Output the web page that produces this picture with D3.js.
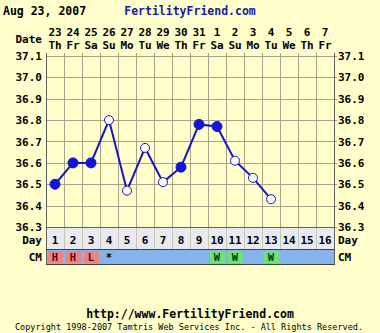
<!DOCTYPE html>
<html><head><meta charset="utf-8">
<script src="https://cdn.jsdelivr.net/npm/d3@7"></script>
<style>body{margin:0;background:#ffffcc;}svg{display:block;}</style>
</head><body>
<script>
const dates = ["23","24","25","26","27","28","29","30","31","1","2","3","4","5","6","7"];
const weekdays = ["Th","Fr","Sa","Su","Mo","Tu","We","Th","Fr","Sa","Su","Mo","Tu","We","Th","Fr"];
const days = [1,2,3,4,5,6,7,8,9,10,11,12,13,14,15,16];
const temps = [36.50,36.60,36.60,36.80,36.47,36.67,36.51,36.58,36.78,36.77,36.61,36.53,36.43];
const openPts = [false,false,false,true,true,true,true,false,false,false,true,true,true];
const cm = ["H","H","L","*","","","","","","W","W","","W","","",""];
const yTicks = [36.3,36.4,36.5,36.6,36.7,36.8,36.9,37.0,37.1];

(function(){
const W=380,H=333;
const svg=d3.select("body").append("svg").attr("width",W).attr("height",H);
svg.append("rect").attr("width",W).attr("height",H).attr("fill","#ffffcc");
const font="'DejaVu Sans Mono', monospace";
const fs=11;
const pl=46,pr=334,pt=56,pb=227;
const x=d3.scaleBand().domain(days).range([pl,pr]);
const y=d3.scaleLinear().domain([36.3,37.1]).range([pb,pt]);
const gridC="#a8a288";

// title
svg.append("text").attr("x",3).attr("y",15).attr("font-family",font).attr("font-weight","bold").attr("font-size",11.5).attr("fill","#000").text("Aug 23, 2007");
svg.append("text").attr("x",190).attr("y",15).attr("text-anchor","middle").attr("font-family",font).attr("font-weight","bold").attr("font-size",11.5).attr("fill","#1a1aa0").text("FertilityFriend.com");

// date header
svg.append("text").attr("x",42).attr("y",43).attr("text-anchor","end").attr("font-family",font).attr("font-weight","bold").attr("font-size",fs).text("Date");
svg.selectAll("text.dn").data(days).enter().append("text").attr("class","dn")
  .attr("x",d=>x(d)+x.bandwidth()/2).attr("y",36).attr("text-anchor","middle")
  .attr("font-family",font).attr("font-weight","bold").attr("font-size",fs).text((d,i)=>dates[i]);
svg.selectAll("text.wd").data(days).enter().append("text").attr("class","wd")
  .attr("x",d=>x(d)+x.bandwidth()/2).attr("y",49).attr("text-anchor","middle")
  .attr("font-family",font).attr("font-weight","bold").attr("font-size",fs).text((d,i)=>weekdays[i]);

// grid
const g=svg.append("g");
yTicks.forEach(t=>{
  g.append("line").attr("x1",pl).attr("x2",pr+3).attr("y1",Math.round(y(t))+0.5).attr("y2",Math.round(y(t))+0.5).attr("stroke",gridC).attr("stroke-width",1);
});
days.forEach(d=>{
  if(d>1) g.append("line").attr("x1",Math.round(x(d))+0.5).attr("x2",Math.round(x(d))+0.5).attr("y1",pt-3).attr("y2",pb).attr("stroke",gridC);
});
g.append("line").attr("x1",pl+0.5).attr("x2",pl+0.5).attr("y1",pt-3).attr("y2",264).attr("stroke","#606060");
g.append("line").attr("x1",pr+0.5).attr("x2",pr+0.5).attr("y1",pt-3).attr("y2",264).attr("stroke","#606060");

// y labels
yTicks.forEach(t=>{
  svg.append("text").attr("x",42).attr("y",y(t)+4).attr("text-anchor","end").attr("font-family",font).attr("font-weight","bold").attr("font-size",fs).text(t.toFixed(1));
  svg.append("text").attr("x",338).attr("y",y(t)+4).attr("font-family",font).attr("font-weight","bold").attr("font-size",fs).text(t.toFixed(1));
});

// day row
svg.append("rect").attr("x",pl+1).attr("y",pb+1).attr("width",pr-pl-1).attr("height",21).attr("fill","#e9e9f1");
days.forEach(d=>{ if(d>1) svg.append("line").attr("x1",Math.round(x(d))+0.5).attr("x2",Math.round(x(d))+0.5).attr("y1",pb).attr("y2",249).attr("stroke","#c8c4b0"); });
svg.append("line").attr("x1",pl).attr("x2",pr+1).attr("y1",pb+0.5).attr("y2",pb+0.5).attr("stroke","#606060");
svg.selectAll("text.dy").data(days).enter().append("text").attr("class","dy")
  .attr("x",d=>x(d)+x.bandwidth()/2).attr("y",244).attr("text-anchor","middle")
  .attr("font-family",font).attr("font-weight","bold").attr("font-size",fs).text(d=>d);
svg.append("text").attr("x",42).attr("y",244).attr("text-anchor","end").attr("font-family",font).attr("font-weight","bold").attr("font-size",fs).text("Day");
svg.append("text").attr("x",338).attr("y",244).attr("font-family",font).attr("font-weight","bold").attr("font-size",fs).text("Day");

// CM row
svg.append("rect").attr("x",pl+1).attr("y",250).attr("width",pr-pl-1).attr("height",14).attr("fill","#86b4ea");
svg.append("line").attr("x1",pl).attr("x2",pr+1).attr("y1",249.5).attr("y2",249.5).attr("stroke","#404040");
svg.append("line").attr("x1",pl).attr("x2",pr+1).attr("y1",264.5).attr("y2",264.5).attr("stroke","#404040");
const cmFill={H:"#e58585",L:"#e58585",W:"#6ee27a"};
const cmText={H:"#6a0000",L:"#6a0000",W:"#003800","*":"#000"};
days.forEach((d,i)=>{
  const c=cm[i];
  if(cmFill[c]) svg.append("rect").attr("x",x(d)+2).attr("y",251).attr("width",x.bandwidth()-3).attr("height",12).attr("fill",cmFill[c]);
  if(c) svg.append("text").attr("x",x(d)+x.bandwidth()/2).attr("y",261).attr("text-anchor","middle").attr("font-family",font).attr("font-weight","bold").attr("font-size",10.5).attr("fill",cmText[c]).text(c);
});
svg.append("text").attr("x",42).attr("y",261).attr("text-anchor","end").attr("font-family",font).attr("font-weight","bold").attr("font-size",fs).text("CM");
svg.append("text").attr("x",338).attr("y",261).attr("font-family",font).attr("font-weight","bold").attr("font-size",fs).text("CM");

// line & points
const pts=temps.map((t,i)=>({d:days[i],t,open:openPts[i]}));
const line=d3.line().x(p=>x(p.d)+x.bandwidth()/2).y(p=>y(p.t));
svg.append("path").datum(pts).attr("d",line).attr("fill","none").attr("stroke","#1414c8").attr("stroke-width",2);
svg.selectAll("circle").data(pts).enter().append("circle")
  .attr("cx",p=>x(p.d)+x.bandwidth()/2).attr("cy",p=>y(p.t))
  .attr("r",p=>p.open?4.5:5)
  .attr("fill",p=>p.open?"#ffffff":"#1414e0")
  .attr("stroke","#1414c8").attr("stroke-width",1);

// footer
svg.append("text").attr("x",190).attr("y",318).attr("text-anchor","middle").attr("font-family",font).attr("font-weight","bold").attr("font-size",11.5).text("http://www.FertilityFriend.com");
svg.append("text").attr("x",189).attr("y",330).attr("text-anchor","middle").attr("font-family",font).attr("font-size",8.5).text("Copyright 1998-2007 Tamtris Web Services Inc. - All Rights Reserved.");
})();
</script>
</body></html>
